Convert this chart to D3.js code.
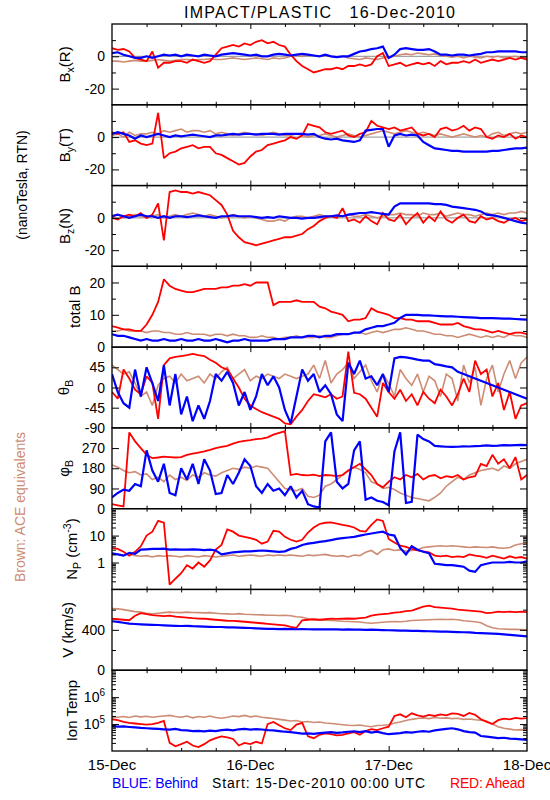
<!DOCTYPE html>
<html><head><meta charset="utf-8">
<script src="https://cdn.jsdelivr.net/npm/d3@7"></script>
<style>html,body{margin:0;padding:0;background:#fff;} svg{display:block;font-family:"Liberation Sans",Arial,sans-serif;}</style>
</head><body><svg id="c" width="550" height="800"></svg>
<script>
// time axis: hourly samples, hours since 15-Dec-2010 00:00 UTC
const hours = d3.range(0, 73);
const dayHours = [0, 24, 48, 72];
const dayLabels = ["15-Dec", "16-Dec", "17-Dec", "18-Dec"];
const sixHourTicks = [6, 12, 18, 30, 36, 42, 54, 60, 66];

// Bx(R) nT
const bxBlue = [2,2.5,1,0,-1,-1,0,-1,0, 1,0.5,1,0,1,0.5,0,1,0.5,0, 1,1.5,2,1.5,1,0.5,1,0,0,1,1.5,1,0.5, 1,1.5,1,0.5,0,1,0,-0.5,0, 0,1.5,3,3.5,4.5,5,6, -1, 1, 4.5,5,4.5,4,4,4.5,3, 1,1,0.5,1,1,0.5,1,1.5, 2.5,2.5,3,3,3,3,2.5,2.5];
const bxRed = [5,4,4.5,3, -1,-2,-3,3,-7, -4,-4,-3,-3,-4,-2,-3,-4,-3, 1, 5,6,7,6,8,7,9,10,8,9,7,6, 1, -3,-6,-8,-10,-9, -8,-8,-7,-8, -6,-6,-5,-6,-5, 0,2, -6, -5,-4,-6,-5,-4,-5,-4,-6,-3,-5,-4,-4, -3,-4,-2,-4,-3,-2,-3,-2,-1,-2,-1,-2];
const bxBrown = [-3,-3,-3.5,-3,-2.5,-3,-3,-2.5,-2,-2.5,-3,-2.5,-2,-2,-2.5,-2,-2,-1.5,-2,-2,-1.5,-1,-1.5,-2,-1.5,-1,-1.5,-2,-1,-1.5,-1, 0,0.5,0,1,0.5,0,0.5,0,-0.5,0, -1,-1.5,-2,-1,-1.5,-2,-1,-0.5,0, 1,1.5,1,2,1.5,1,1.5,0.5, 0,-0.5,0,-1,0,-0.5,-1,0,-0.5,0,-1,-0.5,0,-1,-0.5];

// By(T) nT
const byBlue = [2,3,2,1,-1, 1,0,1,2,1,0,1,0.5,1,1.5,1,0.5,0,1,1,1.5,2,1.5,2,2,1.5,2,2,2,1.5,2,2, 2,2,1.5,2, 0,-1,-1.5,-1, -2,-2.5,-3,-2, 4,4.5,5,5, -6, 1,2, 1,1.5,1, -3,-5, -7,-7.5,-8,-8.5,-8.5,-9,-9,-9,-9,-9,-8.5,-8.5,-8,-7.5,-7,-7,-6.5];
const byRed = [3,2,3, -3,-2,-4,-5,-4, 15, -13, -10,-9,-7, -6,-5,-7,-6,-6, -10,-11,-13, -15,-17,-16, -12,-9,-8, -5,-4,-3,-2, 0,-1,1, 8,7,6, 3,2,3,4, 1,0,2,3, 10,7,6, 5,6,4,5,6, 2,1,2,0, 5,6,4,5,7,4,6,5, 0,-1,1,0,2,-1,1,0];
const byBrown = [1,2,0,3,1,2,2,3,2, 4,3,4,5,3,4,4,3,4, 2,3,2,1,2,3,2,2,1,2,3,2,1, 1,2,1,0,1,1,2,1,0,1,2,1,0,1,2, 3,4,3,2,3,4,3,2,3,2, 1,2,1,0,1,2,1,0,1, 0,2,3,1,2,3,2,3];

// Bz(N) nT
const bzBlue = [1,2,1,0,1,2,1,1,0,1,0,1,1,0.5,1,1.5,1,0.5,0,1,1,1.5,1,1,1,0.5,0,0.5,0,1,0.5, 0,0,-0.5,0,0,0.5, 1,1,1.5,1, 2,2.5,3,3,3.5,3,2.5,2, 7, 9,9,9,9,9,9,8.5,8.5, 8,7,6.5,6,5.5,5,4, 2,1.5,1,0,-1,-2,-3,-3.5];
const bzRed = [0,-1,1,2,1,3,0,2, 9,-14, 16,17,16,16,15,16,15,14, 11,8,2, -8,-12,-15, -16,-17,-16,-15,-14,-13, -12,-12,-11,-10, -7,-5,-2, 0,1,0,6, -2,-1,-3,1,-2,-4,3,-1, -2,2,-4,0,3,-3,1,-2,4,-1,-3,0, 2,-2,-3,1,-1,0,-2,-3,-1,0,-2,-1];
const bzBrown = [1,2,0,1,2,1,0,1,2,0,1,2,1,2,3,2,1,2,1,0,1,2,1,0,1,0, -1,-2,-2,-1,-2,0, 1,1,0,1,2,1,1,0,1,2,1,1,2,1,0,1,2, 2,3,2,2,1,3,2,2,3,1,2,3,2,2,1,2,3,2,3,2,3,3,4,3];

// total B nT
const btRed = [6.5,6,5.5,5.5,5,5, 7,10,14, 21,19, 18,17.5,17,17,17.5,18,18, 18,18.5,18.5,19,19,19.5,19,20,20,20, 13,14,14,14,14.5,14,14,14, 12.5,12,11,10.5,10, 8,8.5,8.5,9,12, 11,10.5, 10,9,9,8.5,8.5,8,8,8, 7.5,7,7,7,7.5,6.5,6,5.5,5.5, 5,4.5,5,4.5,4,4.5,4.5,4];
const btBlue = [4,3.5,3.5,3, 2.5,2,2.5,2,2,2.5,2,2,2.5,2,2,2.5,2,2,2.5,2,1.5,2,2,2.5,2,2,2, 2,2.5,2.5,2.5,3,3,3, 3.5,3.5,3,3.5,3.5,4,4,4,4.5,4.5, 5.5,6,6.5,6.5,7,7.5, 9,10, 10,10,9.8,9.8,9.7,9.6,9.5,9.5,9.4,9.3,9.2,9.1,9.0,9,9,8.9,8.8,8.8,8.7,8.6,8.5];
const btBrown = [5,5,5.5,5,5,5,4.5,5,5,4.5,4.5, 4,4,4.5,4,4,4,3.5,4,4,3.5,4,3.5,3.5,3, 3,3.5,3,3,2.5,3,3,3.5,3,3,3,3.5,3,3,3.5,4, 4,4.5,4.5,4,4.5,5,4.5,5, 5.5,5.5,6,5.5,5,5,4.5, 4,4,3.5,3.5,3,3.5,4,3.5,3,3.5,3,3.5,3,4,3.5,3.5,3];

// theta_B degrees
const thBlue = [30,-10,-35,-45,40,-20,45,10,-30,50, -40,30,-60,-20,-75,-40,-70,-30, 30,15,35,10,-40,-10,-50,-20, 30,5,25,0,-50,-80,-20,40, 15,30,-10,5,-15,-60,-75, 55,30,60,20,25,5,30, -10,65,68,67,65,62,60,60, 52,50,47,45,35,30,25,20, 15,10,5,0,-5,-10,-15,-20,-25];
const thRed = [-10,-25,40,20,-5,-15,25,10,-70,50, 65,68,70,72,75,72,70,62, 55,45,40,20,0,-25,-40,-48, -55,-60,-65,-70,-80,-82,-65,-50, -30,-15,-18,-22,-15,-25,-20, 80,-12,-15,-25,-45,-65,10, -10,-25,-5,-30,-15,-40,-10,-25, -35,-5,-20,-40,-15,20,-10,60, 30,40,-20,10,-50,-10,-70,-40,-35];
const thBrown = [50,40,30,35,10,-20,-10,-40,5,20, 25,10,30,15,20,25,10,30, 20,35,45,20,30,40,15,25, 20,30,25,20,30,25,20,25, 30,50,20,60,10,30,40, 55,20,35,50,15,-10,30, 10,-20,40,20,5,30,-10,25, 15,-20,30,20,-30,50,10,45, -40,20,50,-10,30,60,20,55,68];

// phi_B degrees
const phBlue = [50,70,85,80,110,100,260,170,120,200, 70,60,180,130,200,110,220,170, 65,70,150,110,160,220,190,100, 70,110,80,90,60,100,50,80, 20,10,5,300,340,120,90, 110,260,300,40,50,35,30, 15,255,340,25,30,330,310,300, 280,278,276,275,276,278,277,279, 280,282,280,281,283,282,283,284,283];
const phRed = [20,15,10,340,300,270,240,225,228,232, 230,228,230,240,245,250,255,262, 270,275,280,290,298,302,305,310, 312,318,330,338,345,150,155,150, 148,152,145,150,148,145,150, 170,185,200,175,150,110,95, 120,140,130,150,140,155,130,145, 150,135,145,140,150,130,140,145, 200,190,240,200,220,180,230,130,150];
const phBrown = [195,185,170,160,165,150,155,130,140,120, 150,130,140,125,150,140,160,150, 145,160,170,180,175,185,180,190, 185,180,150,120,90,85,80,90, 55,50,60,100,110,130,150, 170,185,175,160,120,110,90, 95,85,70,60,50,45,40,35, 50,70,100,120,140,130,150,160, 170,175,180,170,190,180,200,210,220];

// proton density cm^-3
const npBlue = [2.2,2.0,1.8,2.3,2.1, 3.0,3.1,3.2,3.2,3.3,3.0,3.1,3.0,3.0,3.1,3.0,2.9,3.0,2.8, 2.0,2.2,2.4,2.5,2.6,2.6,2.7,2.8,2.7,2.6,2.5,2.6, 3.2,3.6,4.5,5.0,5.4,5.8,6.2,6.8, 7.5,8.0,8.5,9.0,10,11,12,13,14, 11,10, 3.5,2.0,4.0,3.0,2.5,2.2, 0.9,0.85,0.8,0.8,0.75,0.7,0.5,0.45, 0.8,0.9,1.0,1.0,1.0,1.05,1.0,1.0,1.1];
const npRed = [3.5,3.2,2.5,1.8,2.5,4.0, 10,14,35,30, 0.15,0.25,0.4,0.8, 0.6,1.0,0.7,1.2,3.0, 4.5,17,14,10,9,8,7, 5,6,15,14,9,7,6,7, 13,20,27,30,31,28,25,23,20, 15,14,25,40,35, 7.5,5.5,4.2,3.8,3.2,2.8,2.6,2.4, 1.8,1.7,1.8,1.6,1.7,1.6,2.0,1.8, 1.7,1.5,1.8,1.6,1.4,1.7,1.5,1.6,1.4];
const npBrown = [2.1,2.0,1.9,2.1,1.8,1.7,1.8,1.6,1.8,1.7, 1.8,1.7,1.6,1.8,1.7,1.6,1.8,1.7,1.6,1.7, 1.8,1.9,1.7,1.8,1.9,1.8,1.7,1.9,1.8,1.9, 1.8,1.9,1.8,1.7,1.9,1.8,1.9,2.0,1.8,1.7,1.8,1.6,1.9,1.8, 2.4,2.8,2.0,3.0,3.2,2.8,3.0,2.6,2.8,3.0, 3.6,3.8,4.0,4.2,4.0,4.2,4.0,3.8,3.6,3.8, 3.7,3.6,3.8,3.5,3.4,3.6,4.5,5.0,5.2];

// bulk speed km/s
const vBlue = [485,478,470,462,458,455,452,450,448, 445,442,440,438,440,436,435,432, 430,428,428,425,424,422,420,418, 415,412,410,410,408,410,408,406, 408,406,405,406,405,404,405,403,404,402,403,400,402,400,398,396, 395,393,392,390,390,388,386, 385,383,382,380,378,376,374,370, 368,365,363,360,355,350,345,340,335];
const vRed = [510,505,500,495,540,565, 555,545,540,535,540,530,525, 520,515,512,510,505,500, 495,490,488,485,480,475, 470,465,460,455,450,445, 430,420, 495,500,505,500, 505,510,508,510,512,510,515,520, 540,550,555,560, 570,575,585,590, 610,630,640,625, 620,615,610,600,595,590,585,580, 565,570,580,575,580,575,580,575];
const vBrown = [610,608,600,590,580,575, 565,560,565,570,575,572, 570,575,572,570,568,570,565,560, 558,555,560,555,552,550,548,545, 545,542,545,540,530,525,510,500, 495,495,492,490,485,482,480,478, 470,465,470,475,480,482,480,485, 492,495,498,500,502,505,503,505,500, 490,485,480,470,440,420, 410,408,405,405,402,400];

// ion temperature K
const tBlue = [85000,80000,82000,78000,75000,72000,70000,68000,66000, 64000,62000,66000,60000,58000,55000,56000,54000,57000,55000, 60000,62000,58000,64000,66000,62000,65000,63000,60000,58000, 55000,52000,50000,47000,44000,45000,43000,46000,48000,50000,47000,49000, 52000,54000,50000,55000,48000,52000,46000,42000, 44000,46000,50000,48000,52000,55000,52000,58000, 62000,66000,70000,64000,55000,50000,48000, 36000,34000,32000,30000,31000,29000,28000,27000,26000];
const tRed = [150000,140000,120000,110000,105000,100000,95000,100000,110000,130000, 20000,15000,18000,22000,16000,14000,18000,25000, 30000,35000,32000,28000,16000,20000,18000,22000,19000, 100000,120000,90000,70000,60000,95000,110000, 35000,30000,40000,45000,42000,38000,40000, 45000,50000,40000,55000,65000,60000,70000,80000, 200000,230000,180000,250000,210000,190000,220000,200000, 230000,210000,250000,240000,200000,260000,220000,150000, 120000,100000,140000,160000,150000,170000,160000,165000];
const tBrown = [170000,180000,190000,175000,200000,185000,195000,180000,190000,200000, 210000,190000,180000,200000,170000,190000,180000,200000,175000,165000, 180000,200000,190000,210000,185000,200000,180000,170000,160000,150000, 140000,130000,135000,120000,125000,115000,120000,110000,105000,100000, 95000,90000,88000,92000,85000,80000,88000,90000,95000,110000, 120000,135000,150000,160000,170000,160000,175000,165000,170000,160000, 165000,150000,155000,145000,140000,130000,100000,80000,70000,65000,60000,62000,60000];

const RED = "#ff0000", BLUE = "#0000ff", BROWN = "#cd8c73";

const panels = [
  {title:[{t:"B"},{t:"x",sub:1},{t:"(R)"}], tx:70, domain:[-30,20], major:[-20,0], minor:[-10,10], labels:{"-20":"-20","0":"0"}, zero:true, s:[bxBrown,bxRed,bxBlue]},
  {title:[{t:"B"},{t:"y",sub:1},{t:"(T)"}], tx:70, domain:[-30,20], major:[-20,0], minor:[-10,10], labels:{"-20":"-20","0":"0"}, zero:true, s:[byBrown,byRed,byBlue]},
  {title:[{t:"B"},{t:"z",sub:1},{t:"(N)"}], tx:70, domain:[-30,20], major:[-20,0], minor:[-10,10], labels:{"-20":"-20","0":"0"}, zero:true, s:[bzBrown,bzRed,bzBlue]},
  {title:[{t:"total B"}], tx:80, domain:[0,25], major:[0,10,20], minor:[5,15], labels:{"0":"0","10":"10","20":"20"}, s:[btBrown,btRed,btBlue]},
  {title:[{t:"θ"},{t:"B",sub:1}], tx:69, domain:[-90,90], major:[-90,-45,0,45], minor:[], labels:{"-90":"-90","-45":"-45","0":"0","45":"45"}, s:[thBrown,thRed,thBlue]},
  {title:[{t:"φ"},{t:"B",sub:1}], tx:69, domain:[0,360], major:[0,90,180,270], minor:[], labels:{"0":"0","90":"90","180":"180","270":"270"}, s:[phBrown,phRed,phBlue]},
  {title:[{t:"N"},{t:"P",sub:1},{t:" (cm"},{t:"-3",sup:1},{t:")"}], tx:77, log:true, domain:[0.1,100], major:[1,10], minor:[0.2,0.3,0.4,0.5,0.6,0.7,0.8,0.9,2,3,4,5,6,7,8,9,20,30,40,50,60,70,80,90], labels:{"1":"1","10":"10"}, s:[npBrown,npRed,npBlue]},
  {title:[{t:"V (km/s)"}], tx:73, domain:[0,800], major:[0,400], minor:[200,600], labels:{"0":"0","400":"400"}, s:[vBrown,vRed,vBlue]},
  {title:[{t:"Ion Temp"}], tx:77, log:true, domain:[1e4,1e7], major:[1e5,1e6], minor:[2e4,3e4,4e4,5e4,6e4,7e4,8e4,9e4,2e5,3e5,4e5,5e5,6e5,7e5,8e5,9e5,2e6,3e6,4e6,5e6,6e6,7e6,8e6,9e6], labels:{"100000":"10|5","1000000":"10|6"}, s:[tBrown,tRed,tBlue]}
];
const colors = [BROWN, RED, BLUE];
const widths = [1.6, 1.8, 2.2];

const X0 = 112, X1 = 527, TOP = 24, BOT = 751;
const PH = (BOT - TOP) / panels.length;
const svg = d3.select("#c");
const x = d3.scaleLinear().domain([0, 72]).range([X0, X1]);

function rich(textSel, parts, base) {
  parts.forEach(p => {
    const ts = textSel.append("tspan").text(p.t);
    if (p.sub) { ts.attr("dy", 4).attr("font-size", base * 0.7); }
    else if (p.sup) { ts.attr("dy", -6).attr("font-size", base * 0.7); }
    if (p._after) ts.attr("dy", p._after);
  });
}
function richWithReset(textSel, parts, base) {
  let shift = 0;
  parts.forEach(p => {
    const ts = textSel.append("tspan").text(p.t);
    let target = p.sub ? 4 : (p.sup ? -6 : 0);
    if (target !== shift) ts.attr("dy", target - shift);
    shift = target;
    if (p.sub || p.sup) ts.attr("font-size", base * 0.7);
  });
}

panels.forEach((p, i) => {
  const top = TOP + i * PH, bot = top + PH;
  const y = (p.log ? d3.scaleLog() : d3.scaleLinear()).domain(p.domain).range([bot, top]);
  const cid = "clip" + i;
  svg.append("clipPath").attr("id", cid).append("rect")
    .attr("x", X0).attr("y", top).attr("width", X1 - X0).attr("height", PH);
  const dg = svg.append("g").attr("clip-path", `url(#${cid})`);
  if (p.zero) dg.append("line").attr("x1", X0).attr("x2", X1).attr("y1", y(0)).attr("y2", y(0))
    .attr("stroke", "#8c8c8c").attr("stroke-width", 1);
  p.s.forEach((vals, k) => {
    const line = d3.line().x((d, j) => x(hours[j])).y(d => y(d));
    dg.append("path").datum(vals).attr("d", line)
      .attr("fill", "none").attr("stroke", colors[k]).attr("stroke-width", widths[k])
      .attr("stroke-linejoin", "miter").attr("stroke-miterlimit", 2);
  });
  // y axes: major with labels
  const noDomain = g => g.select(".domain").remove();
  svg.append("g").attr("transform", `translate(${X0},0)`)
    .call(d3.axisLeft(y).tickValues(p.major.filter(v => v > p.domain[0] && v < p.domain[1])).tickSize(-7).tickFormat(""))
    .call(noDomain);
  svg.append("g").attr("transform", `translate(${X1},0)`)
    .call(d3.axisRight(y).tickValues(p.major.filter(v => v > p.domain[0] && v < p.domain[1])).tickSize(-7).tickFormat(""))
    .call(noDomain);
  if (p.minor.length) {
    svg.append("g").attr("transform", `translate(${X0},0)`)
      .call(d3.axisLeft(y).tickValues(p.minor).tickSize(-4).tickFormat("")).call(noDomain);
    svg.append("g").attr("transform", `translate(${X1},0)`)
      .call(d3.axisRight(y).tickValues(p.minor).tickSize(-4).tickFormat("")).call(noDomain);
  }
  // tick labels
  p.major.forEach(v => {
    const lab = p.labels[String(v)];
    if (!lab) return;
    const t = svg.append("text").attr("x", X0 - 7).attr("y", y(v)).attr("dy", "0.36em")
      .attr("text-anchor", "end").attr("font-size", 14).attr("fill", "#000");
    if (lab.includes("|")) {
      const [b, e] = lab.split("|");
      t.append("tspan").text(b);
      t.append("tspan").text(e).attr("dy", -6).attr("font-size", 10);
    } else t.text(lab);
  });
  // x ticks top and bottom
  [[d3.axisBottom, bot], [d3.axisTop, top]].forEach(([ax, yy]) => {
    svg.append("g").attr("transform", `translate(0,${yy})`)
      .call(ax(x).tickValues(dayHours.slice(1, 3)).tickSize(-5).tickFormat("")).call(noDomain);
    svg.append("g").attr("transform", `translate(0,${yy})`)
      .call(ax(x).tickValues(sixHourTicks).tickSize(-3).tickFormat("")).call(noDomain);
  });
  // frame
  svg.append("rect").attr("x", X0).attr("y", top).attr("width", X1 - X0).attr("height", PH)
    .attr("fill", "none").attr("stroke", "#000").attr("stroke-width", 1.3);
  // y title
  const yt = svg.append("text").attr("transform", `translate(${p.tx},${(top + bot) / 2}) rotate(-90)`)
    .attr("text-anchor", "middle").attr("font-size", 15).attr("fill", "#000");
  richWithReset(yt, p.title, 15);
});

svg.selectAll(".tick line").attr("stroke", "#000").attr("stroke-width", 1);

// day labels
dayHours.forEach((h, i) => {
  svg.append("text").attr("x", x(h)).attr("y", 770).attr("text-anchor", "middle")
    .attr("font-size", 15).attr("fill", "#000").text(dayLabels[i]);
});

// title
svg.append("text").attr("x", 184).attr("y", 18).attr("font-size", 16).attr("fill", "#000")
  .style("white-space", "pre").attr("textLength", 271).attr("lengthAdjust", "spacing")
  .text("IMPACT/PLASTIC   16-Dec-2010");

// side labels
svg.append("text").attr("transform", `translate(27,185) rotate(-90)`).attr("text-anchor", "middle")
  .attr("font-size", 14).attr("fill", "#000").text("(nanoTesla, RTN)");
svg.append("text").attr("transform", `translate(25,507) rotate(-90)`).attr("text-anchor", "middle")
  .attr("font-size", 14).attr("fill", BROWN).text("Brown: ACE equivalents");

// bottom captions
svg.append("text").attr("x", 112).attr("y", 788).attr("font-size", 14).attr("fill", BLUE)
  .attr("textLength", 86).attr("lengthAdjust", "spacing").text("BLUE: Behind");
svg.append("text").attr("x", 212).attr("y", 788).attr("font-size", 14).attr("fill", "#000")
  .attr("textLength", 213).attr("lengthAdjust", "spacing").text("Start: 15-Dec-2010 00:00 UTC");
svg.append("text").attr("x", 450).attr("y", 788).attr("font-size", 14).attr("fill", RED)
  .attr("textLength", 75).attr("lengthAdjust", "spacing").text("RED: Ahead");
</script></body></html>
